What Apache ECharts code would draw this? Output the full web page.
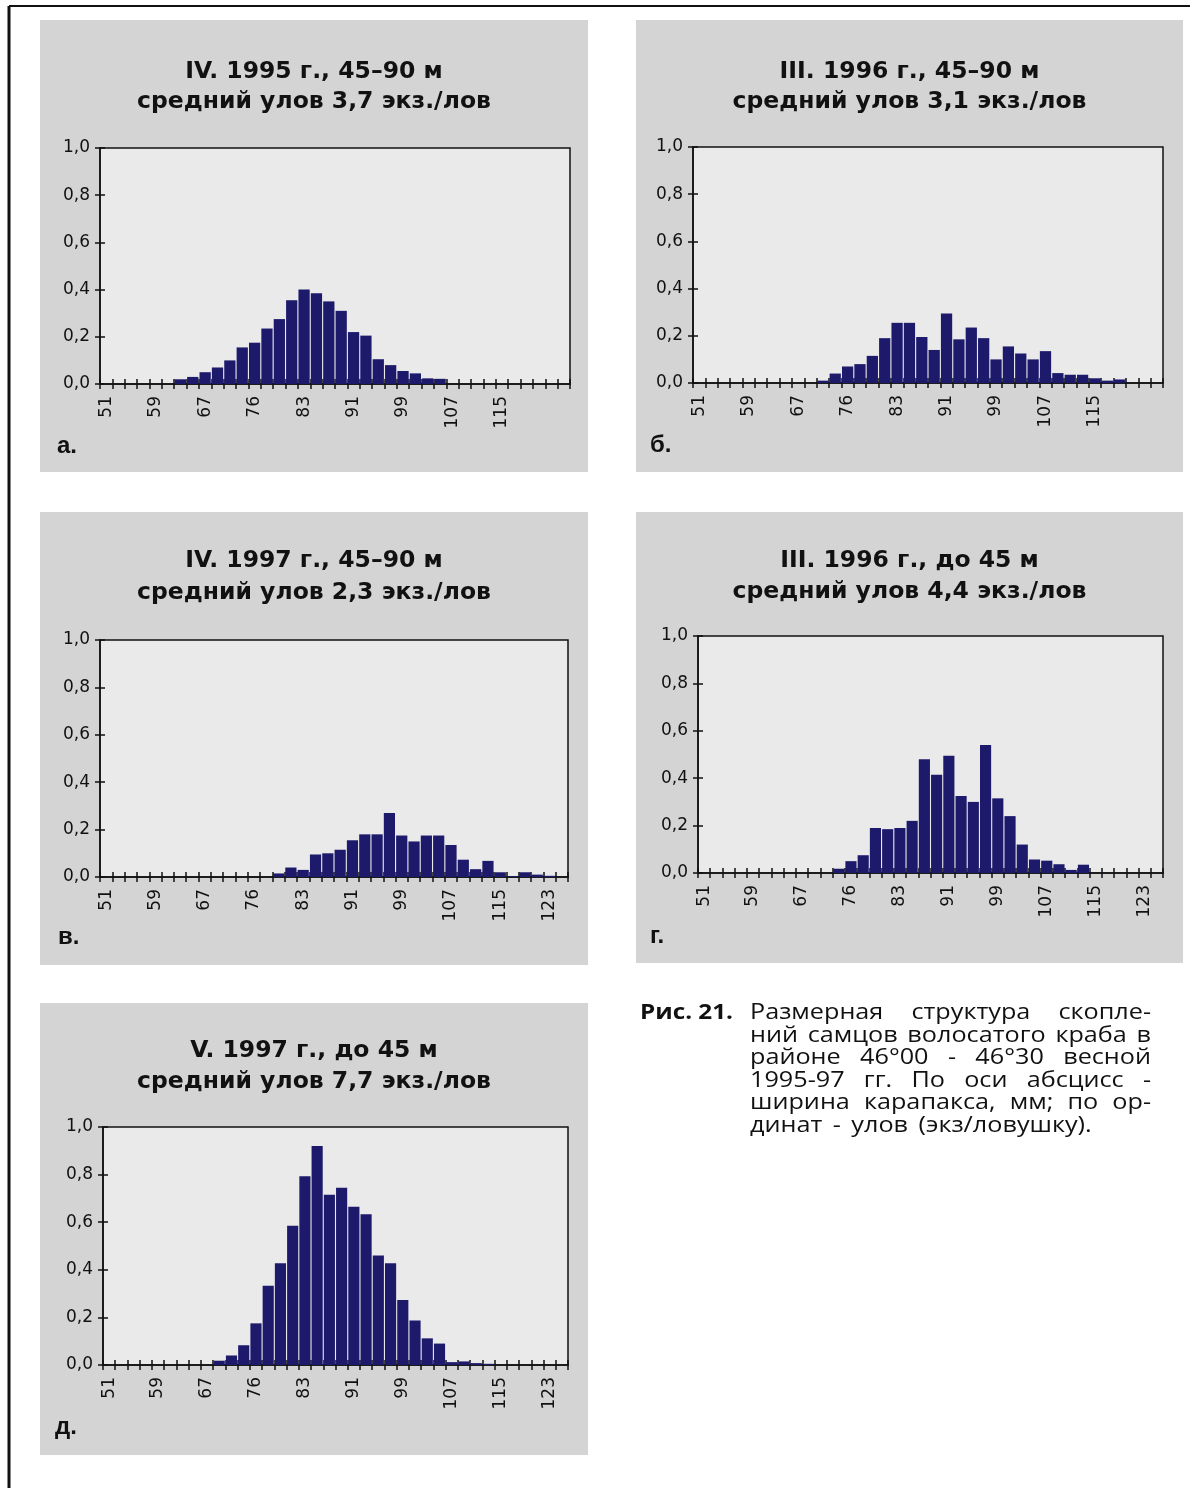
<!DOCTYPE html>
<html>
<head>
<meta charset="utf-8">
<script src="https://cdn.jsdelivr.net/npm/echarts@6/dist/echarts.min.js"></script>
<style>
  html, body { margin: 0; padding: 0; background: #ffffff; }
  #chart { width: 1201px; height: 1488px; }
</style>
</head>
<body>
<div id="chart"></div>
<script>
// Carapace width classes (mm): 38 classes, every 4th one carries a label
const tickLabels = ['51', '59', '67', '76', '83', '91', '99', '107', '115', '123'];
const classCount = 38;
const labelsShown = [9, 9, 10, 10, 10];

// Mean catch per trap in each size class
const catchA = [0, 0, 0, 0, 0, 0, 0.02, 0.03, 0.05, 0.07, 0.10, 0.155, 0.175, 0.235, 0.275, 0.355, 0.40, 0.385, 0.35, 0.31,
  0.22, 0.205, 0.105, 0.08, 0.055, 0.045, 0.024, 0.022, 0, 0, 0, 0, 0, 0, 0, 0, 0, 0];
const catchB = [0, 0, 0, 0, 0, 0, 0, 0, 0, 0, 0.01, 0.04, 0.07, 0.08, 0.115, 0.19, 0.255, 0.255, 0.195, 0.14,
  0.295, 0.185, 0.235, 0.19, 0.10, 0.155, 0.125, 0.10, 0.135, 0.042, 0.035, 0.035, 0.02, 0.01, 0.015, 0, 0, 0];
const catchC = [0, 0, 0, 0, 0, 0, 0, 0, 0, 0, 0, 0, 0, 0, 0.015, 0.04, 0.03, 0.095, 0.10, 0.115,
  0.155, 0.18, 0.18, 0.27, 0.175, 0.15, 0.175, 0.175, 0.135, 0.073, 0.033, 0.068, 0.02, 0.004, 0.02, 0.01, 0.005, 0];
const catchD = [0, 0, 0, 0, 0, 0, 0, 0, 0, 0, 0, 0.018, 0.05, 0.075, 0.19, 0.185, 0.19, 0.22, 0.48, 0.415,
  0.495, 0.325, 0.30, 0.54, 0.315, 0.24, 0.12, 0.057, 0.052, 0.037, 0.013, 0.035, 0, 0, 0, 0, 0, 0];
const catchE = [0, 0, 0, 0, 0, 0, 0, 0, 0, 0.018, 0.04, 0.083, 0.175, 0.333, 0.428, 0.585, 0.793, 0.92, 0.715, 0.745,
  0.665, 0.633, 0.46, 0.428, 0.273, 0.187, 0.112, 0.09, 0.012, 0.015, 0.008, 0.005, 0, 0, 0, 0, 0, 0];
const catchSeries = [catchA, catchB, catchC, catchD, catchE];

const titlesLine1 = ['IV. 1995 г., 45–90 м', 'III. 1996 г., 45–90 м', 'IV. 1997 г., 45–90 м', 'III. 1996 г., до 45 м', 'V. 1997 г., до 45 м'];
const titlesLine2 = ['средний улов 3,7 экз./лов', 'средний улов 3,1 экз./лов', 'средний улов 2,3 экз./лов', 'средний улов 4,4 экз./лов', 'средний улов 7,7 экз./лов'];
const panelLetters = ['а.', 'б.', 'в.', 'г.', 'д.'];

const captionHead = 'Рис. 21.';
const captionLines = [
  'Размерная структура скопле-',
  'ний самцов волосатого краба в',
  'районе 46°00 - 46°30 весной',
  '1995-97 гг. По оси абсцисс -',
  'ширина карапакса, мм; по ор-',
  'динат - улов (экз/ловушку).'
];

// Panel geometry: grey box, plot grid, title rows, panel letter
const layout = [
  { box: [40, 20, 548, 452],   grid: [100, 148, 470, 236], t1: 72,   t2: 102,  letter: [57, 446] },
  { box: [636, 20, 547, 452],  grid: [693, 147, 470, 236], t1: 72,   t2: 102,  letter: [650, 445] },
  { box: [40, 512, 548, 453],  grid: [100, 640, 468, 237], t1: 561,  t2: 593,  letter: [58, 937] },
  { box: [636, 512, 547, 451], grid: [698, 636, 465, 237], t1: 561,  t2: 592,  letter: [650, 936] },
  { box: [40, 1003, 548, 452], grid: [103, 1127, 465, 238], t1: 1051, t2: 1082, letter: [55, 1427] }
];

const INK = '#111111';
const BAR = '#1d1a6c';
const categories = Array.from({ length: classCount }, (_, i) => String(i));

const grids = [], xAxes = [], yAxes = [], series = [], graphics = [];

// page frame
graphics.push({ type: 'line', z: 20, shape: { x1: 9, y1: 6, x2: 1190, y2: 6 }, style: { stroke: INK, lineWidth: 2 } });
graphics.push({ type: 'line', z: 20, shape: { x1: 9, y1: 6, x2: 9, y2: 1488 }, style: { stroke: INK, lineWidth: 3 } });

layout.forEach((L, p) => {
  const [bx, by, bw, bh] = L.box;
  const [gx, gy, gw, gh] = L.grid;
  graphics.push({ type: 'rect', z: -10, shape: { x: bx, y: by, width: bw, height: bh }, style: { fill: '#d4d4d4' } });
  const cx = bx + bw / 2;
  graphics.push({ type: 'text', z: 10, x: cx, y: L.t1, style: { text: titlesLine1[p], fontFamily: 'DejaVu Sans', fontWeight: 'bold', fontSize: 23.5, fill: INK, textAlign: 'center', textVerticalAlign: 'middle' } });
  graphics.push({ type: 'text', z: 10, x: cx, y: L.t2, style: { text: titlesLine2[p], fontFamily: 'DejaVu Sans', fontWeight: 'bold', fontSize: 23.5, fill: INK, textAlign: 'center', textVerticalAlign: 'middle' } });
  graphics.push({ type: 'text', z: 10, x: L.letter[0], y: L.letter[1], style: { text: panelLetters[p], fontFamily: 'Liberation Sans', fontWeight: 'bold', fontSize: 24, fill: INK, textAlign: 'left', textVerticalAlign: 'middle' } });

  grids.push({ left: gx, top: gy, width: gw, height: gh, show: true, backgroundColor: '#eaeaea', borderColor: INK, borderWidth: 1.5 });

  const shown = labelsShown[p];
  const labelFmt = (v, idx) => (idx % 4 === 0 && idx / 4 < shown) ? tickLabels[idx / 4] : '';
  // outer half of the crossing ticks, with labels
  xAxes.push({
    gridIndex: p, type: 'category', data: categories, position: 'bottom', boundaryGap: true,
    axisLine: { show: true, lineStyle: { color: INK, width: 1.5 } },
    axisTick: { show: true, interval: 0, length: 5, lineStyle: { color: INK, width: 1.5 } },
    axisLabel: { interval: 3, rotate: 90, margin: 12, fontFamily: 'DejaVu Sans', fontSize: 17, color: INK, formatter: labelFmt },
    splitLine: { show: false }
  });
  // inner half of the crossing ticks
  xAxes.push({
    gridIndex: p, type: 'category', data: categories, position: 'bottom', boundaryGap: true,
    axisLine: { show: false },
    axisTick: { show: true, inside: true, interval: 0, length: 5, lineStyle: { color: INK, width: 1.5 } },
    axisLabel: { show: false }, splitLine: { show: false }
  });
  const yFmt = v => v.toFixed(1).replace('.', ',');
  yAxes.push({
    gridIndex: p, type: 'value', min: 0, max: 1, interval: 0.2, position: 'left',
    axisLine: { show: true, lineStyle: { color: INK, width: 1.5 } },
    axisTick: { show: true, length: 5, lineStyle: { color: INK, width: 1.5 } },
    axisLabel: { margin: 10, fontFamily: 'DejaVu Sans', fontSize: 17, color: INK, formatter: yFmt },
    splitLine: { show: false }
  });
  yAxes.push({
    gridIndex: p, type: 'value', min: 0, max: 1, interval: 0.2, position: 'left',
    axisLine: { show: false },
    axisTick: { show: true, inside: true, length: 5, lineStyle: { color: INK, width: 1.5 } },
    axisLabel: { show: false }, splitLine: { show: false }
  });

  series.push({
    type: 'bar', xAxisIndex: 2 * p, yAxisIndex: 2 * p, data: catchSeries[p],
    barCategoryGap: '9%', itemStyle: { color: BAR }, z: 3
  });
});

// Caption: bold figure number followed by a justified paragraph
(function addCaption() {
  const ctx = document.createElement('canvas').getContext('2d');
  const size = 21, family = 'Open Sans', sx = 1.2;
  const x0 = 750, x1 = 1151, y0 = 1013, lh = 22.6;
  ctx.font = 'bold ' + size + 'px "' + family + '"';
  const headW = ctx.measureText(captionHead).width;
  graphics.push({ type: 'text', z: 10, x: 640, y: y0, scaleX: 93 / headW, style: { text: captionHead, fontFamily: family, fontWeight: 'bold', fontSize: size, fill: INK, textAlign: 'left', textVerticalAlign: 'middle' } });
  ctx.font = size + 'px "' + family + '"';
  const space = ctx.measureText(' ').width * sx;
  captionLines.forEach((line, i) => {
    const words = line.split(' ');
    const widths = words.map(w => ctx.measureText(w).width * sx);
    const total = widths.reduce((a, b) => a + b, 0);
    const last = i === captionLines.length - 1;
    const gap = last ? space * 1.6 : (x1 - x0 - total) / (words.length - 1);
    let x = x0;
    words.forEach((w, j) => {
      graphics.push({ type: 'text', z: 10, x: x, y: y0 + i * lh, scaleX: sx, style: { text: w, fontFamily: family, fontSize: size, fill: INK, textAlign: 'left', textVerticalAlign: 'middle' } });
      x += widths[j] + gap;
    });
  });
})();

const chart = echarts.init(document.getElementById('chart'), null, { renderer: 'canvas' });
chart.setOption({
  animation: false,
  backgroundColor: '#ffffff',
  grid: grids,
  xAxis: xAxes,
  yAxis: yAxes,
  series: series,
  graphic: { elements: graphics }
});
</script>
</body>
</html>
